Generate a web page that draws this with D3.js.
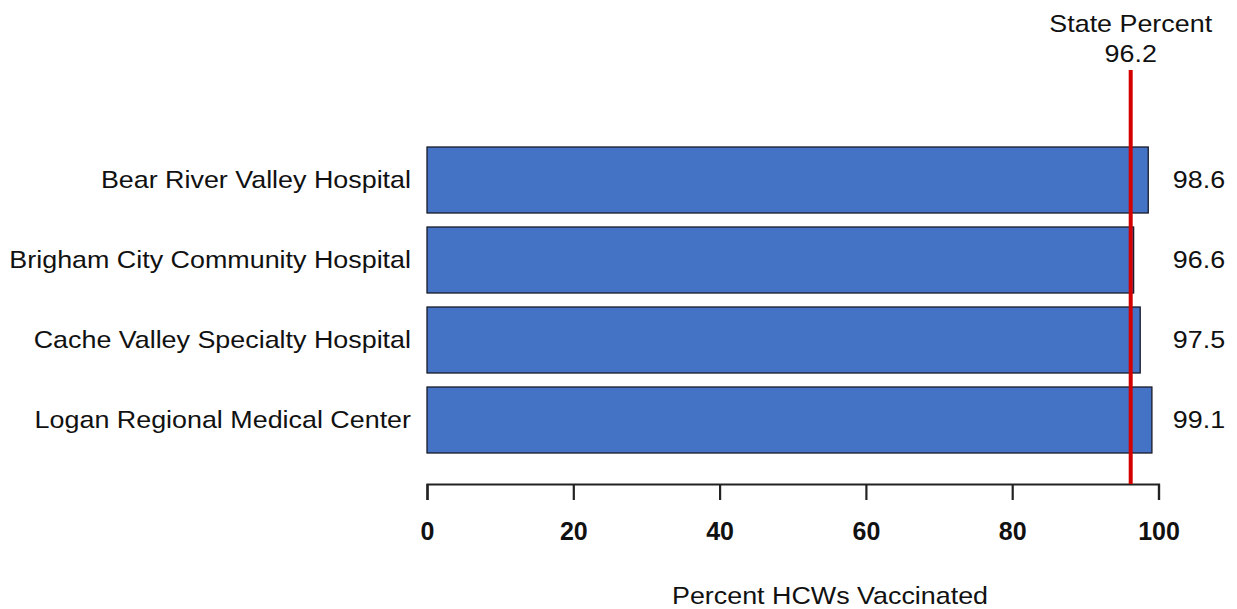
<!DOCTYPE html>
<html><head><meta charset="utf-8">
<script src="https://cdn.jsdelivr.net/npm/d3@7"></script>
<style>body{margin:0;background:#fff}svg{display:block}text{font-family:"Liberation Sans",Arial,sans-serif;fill:#111}</style>
</head><body><svg id="c" width="1237" height="609"></svg>
<script>
const categories = ["Bear River Valley Hospital","Brigham City Community Hospital","Cache Valley Specialty Hospital","Logan Regional Medical Center"];
const values = [98.6, 96.6, 97.5, 99.1];
const valueLabels = ["98.6","96.6","97.5","99.1"];
const stateValue = 96.2;
const stateLabel = ["State Percent","96.2"];
const tickValues = [0,20,40,60,80,100];
const xTitle = "Percent HCWs Vaccinated";

const FS = 24, SX = 1.12;
const svg = d3.select("#c");
const x = d3.scaleLinear().domain([0,100]).range([427,1158.5]);
const y = d3.scaleBand().domain(categories).range([140,460]).paddingInner(14/80).paddingOuter(7/80);

function place(sel, fx, fy){
  sel.attr("transform",(d,i)=>`translate(${fx(d,i)},${fy(d,i)}) scale(${SX},1)`).attr("font-size",FS);
}

svg.selectAll("rect.bar").data(values).join("rect")
  .attr("class","bar")
  .attr("x", x(0)).attr("y",(d,i)=>y(categories[i]))
  .attr("width", d=>x(d)-x(0)).attr("height", y.bandwidth())
  .attr("fill","#4472c4").attr("stroke","#1a1a2a").attr("stroke-width",1.3);

svg.selectAll("text.cat").data(categories).join("text")
  .attr("class","cat").attr("text-anchor","end").text(d=>d)
  .call(place, ()=>411, d=>y(d)+y.bandwidth()/2+8);

svg.selectAll("text.val").data(valueLabels).join("text")
  .attr("class","val").attr("text-anchor","middle").text(d=>d)
  .call(place, ()=>1199, (d,i)=>y(categories[i])+y.bandwidth()/2+8);

const axis = d3.axisBottom(x).tickValues(tickValues).tickSize(16).tickPadding(22);
const g = svg.append("g").attr("transform","translate(0,484)").call(axis);
g.select(".domain").attr("stroke","#222").attr("stroke-width",2.2);
g.selectAll(".tick line").attr("stroke","#222").attr("stroke-width",2.2);
g.selectAll(".tick text").attr("font-size",25).attr("font-weight","bold").attr("fill","#111")
  .style("font-family","'Liberation Sans',Arial,sans-serif");

svg.append("line").attr("x1",x(stateValue)).attr("x2",x(stateValue)).attr("y1",70).attr("y2",484)
  .attr("stroke","#d40000").attr("stroke-width",4);

svg.selectAll("text.st").data(stateLabel).join("text").attr("class","st")
  .attr("text-anchor","middle").text(d=>d)
  .call(place, ()=>x(stateValue), (d,i)=>32+i*30);

svg.append("text").attr("text-anchor","middle").text(xTitle)
  .attr("transform",`translate(830,604) scale(${SX},1)`).attr("font-size",FS);
</script></body></html>
